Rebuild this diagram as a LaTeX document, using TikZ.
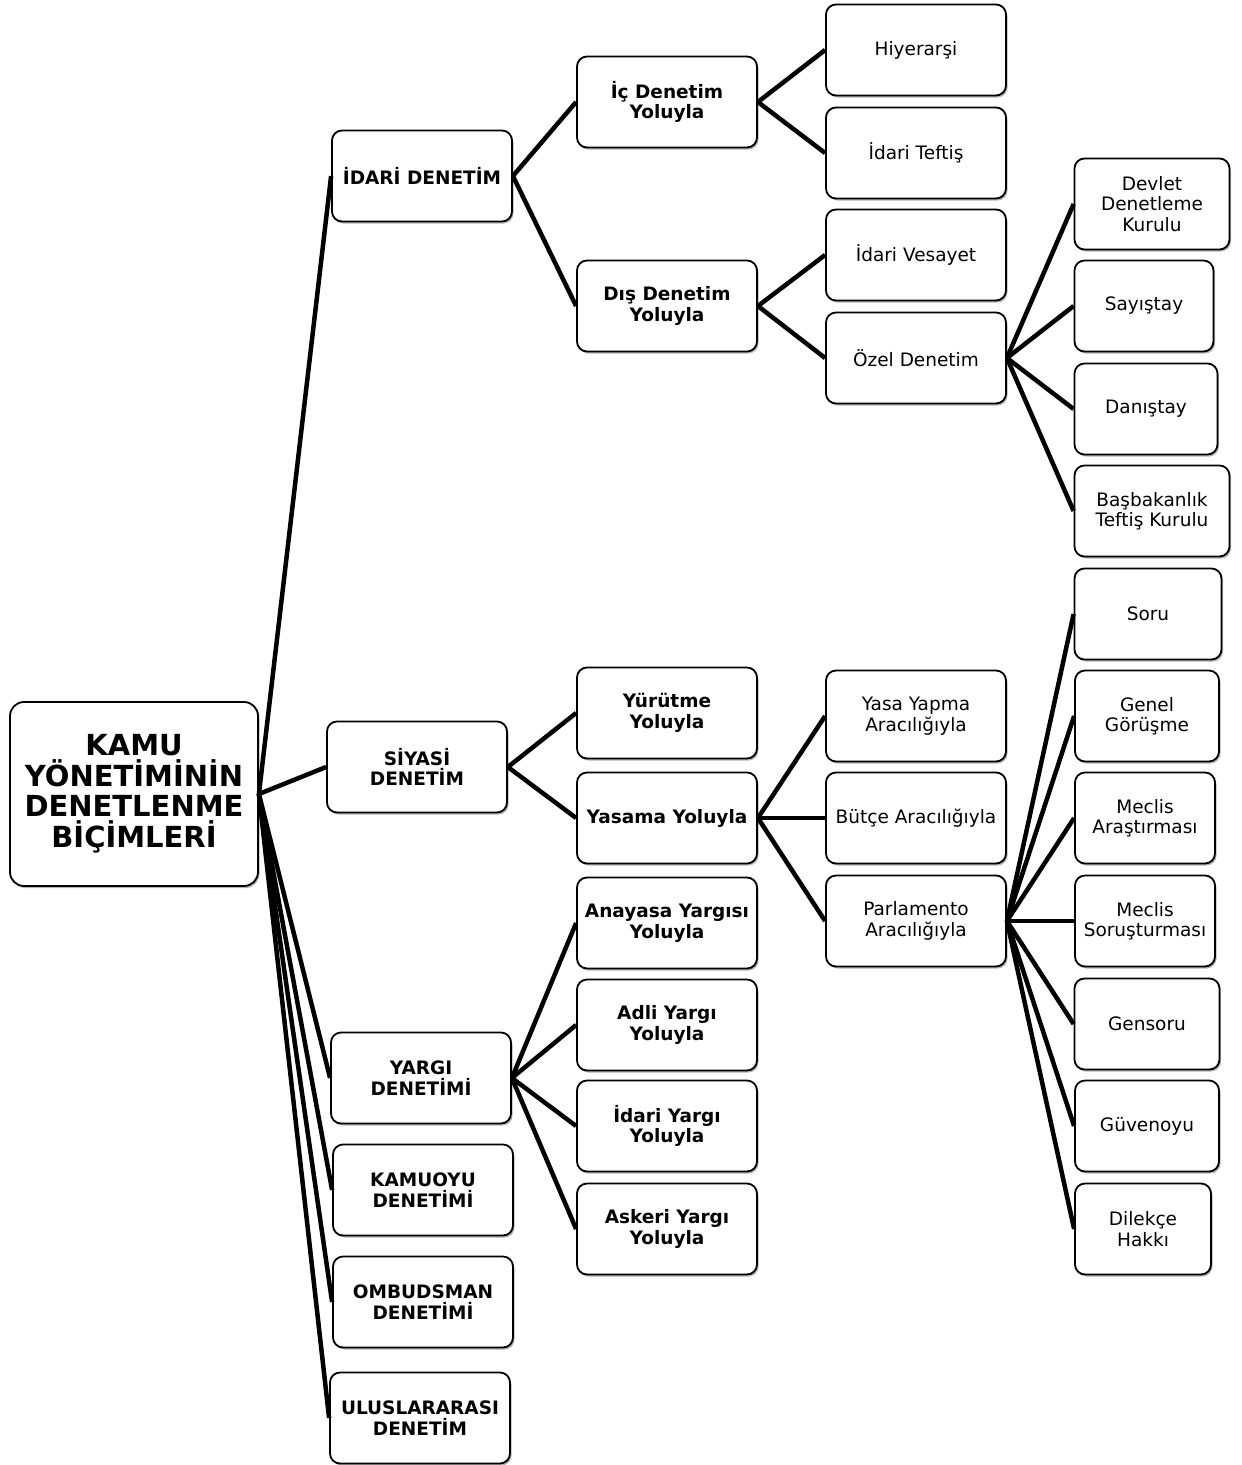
\documentclass[tikz,border=0pt]{standalone}
\usepackage{fontspec}
\setmainfont{DejaVu Sans}
\usetikzlibrary{shadows}

\tikzset{
  box/.style={draw, line width=1.8pt, rounded corners=10pt, fill=white,
    drop shadow={shadow xshift=1.5pt, shadow yshift=-2pt, fill=black!50, opacity=0.6},
    align=center, minimum width=180pt, minimum height=91pt, inner sep=1pt,
    font=\fontsize{18.5}{20.5}\selectfont},
  boldbox/.style={box, font=\fontsize{18.5}{20.5}\selectfont\bfseries},
  rootbox/.style={box, minimum width=248pt, minimum height=184pt, rounded corners=14pt,
    font=\fontsize{29}{30.5}\selectfont\bfseries},
  link/.style={line width=4.5pt}
}

\begin{document}
\begin{tikzpicture}[x=1pt, y=-1pt]

  \path[use as bounding box, fill=white] (0,0) rectangle (1242,1465);

  % root
  \node[rootbox] (root) at (134,794) {KAMU\\YÖNETİMİNİN\\DENETLENME\\BİÇİMLERİ};

  % level 1
  \node[boldbox] (idari)  at (422,176)  {İDARİ DENETİM};
  \node[boldbox] (siyasi) at (417,767)  {SİYASİ\\DENETİM};
  \node[boldbox] (yargi)  at (421,1078) {YARGI\\DENETİMİ};
  \node[boldbox] (kamuoyu) at (423,1190) {KAMUOYU\\DENETİMİ};
  \node[boldbox] (ombud)  at (423,1302) {OMBUDSMAN\\DENETİMİ};
  \node[boldbox] (ulus)   at (420,1418) {ULUSLARARASI\\DENETİM};

  % level 2
  \node[boldbox] (ic)       at (667,102)  {İç Denetim\\Yoluyla};
  \node[boldbox] (dis)      at (667,306)  {Dış Denetim\\Yoluyla};
  \node[boldbox] (yurutme)  at (667,713)  {Yürütme\\Yoluyla};
  \node[boldbox] (yasama)   at (667,818)  {Yasama Yoluyla};
  \node[boldbox] (anayasa)  at (667,923)  {Anayasa Yargısı\\Yoluyla};
  \node[boldbox] (adli)     at (667,1025) {Adli Yargı\\Yoluyla};
  \node[boldbox] (idyargi)  at (667,1126) {İdari Yargı\\Yoluyla};
  \node[boldbox] (askeri)   at (667,1229) {Askeri Yargı\\Yoluyla};

  % level 3
  \node[box] (hiyerarsi) at (916,50)  {Hiyerarşi};
  \node[box] (teftis)    at (916,153) {İdari Teftiş};
  \node[box] (vesayet)   at (916,255) {İdari Vesayet};
  \node[box] (ozel)      at (916,358) {Özel Denetim};
  \node[box] (yasa)      at (916,716) {Yasa Yapma\\Aracılığıyla};
  \node[box] (butce)     at (916,818) {Bütçe Aracılığıyla};
  \node[box] (parlam)    at (916,921) {Parlamento\\Aracılığıyla};

  % level 4
  \node[box, minimum width=155pt] (ddk)      at (1152,204)  {Devlet\\Denetleme\\Kurulu};
  \node[box, minimum width=139pt] (sayistay) at (1144,306)  {Sayıştay};
  \node[box, minimum width=143pt] (danistay) at (1146,409)  {Danıştay};
  \node[box, minimum width=155pt] (btk)      at (1152,511)  {Başbakanlık\\Teftiş Kurulu};
  \node[box, minimum width=147pt] (soru)     at (1148,614)  {Soru};
  \node[box, minimum width=144pt] (genel)    at (1147,716)  {Genel\\Görüşme};
  \node[box, minimum width=140pt] (arastir)  at (1145,818)  {Meclis\\Araştırması};
  \node[box, minimum width=140pt] (sorust)   at (1145,921)  {Meclis\\Soruşturması};
  \node[box, minimum width=145pt] (gensoru)  at (1147,1024) {Gensoru};
  \node[box, minimum width=144pt] (guven)    at (1147,1126) {Güvenoyu};
  \node[box, minimum width=136pt] (dilekce)  at (1143,1229) {Dilekçe\\Hakkı};

  % connectors
  \foreach \a/\b in {root/idari, root/siyasi, root/yargi, root/kamuoyu, root/ombud, root/ulus,
                     idari/ic, idari/dis, siyasi/yurutme, siyasi/yasama,
                     yargi/anayasa, yargi/adli, yargi/idyargi, yargi/askeri,
                     ic/hiyerarsi, ic/teftis, dis/vesayet, dis/ozel,
                     yasama/yasa, yasama/butce, yasama/parlam,
                     ozel/ddk, ozel/sayistay, ozel/danistay, ozel/btk,
                     parlam/soru, parlam/genel, parlam/arastir, parlam/sorust,
                     parlam/gensoru, parlam/guven, parlam/dilekce}
    \draw[link] (\a.east) -- (\b.west);

\end{tikzpicture}
\end{document}
